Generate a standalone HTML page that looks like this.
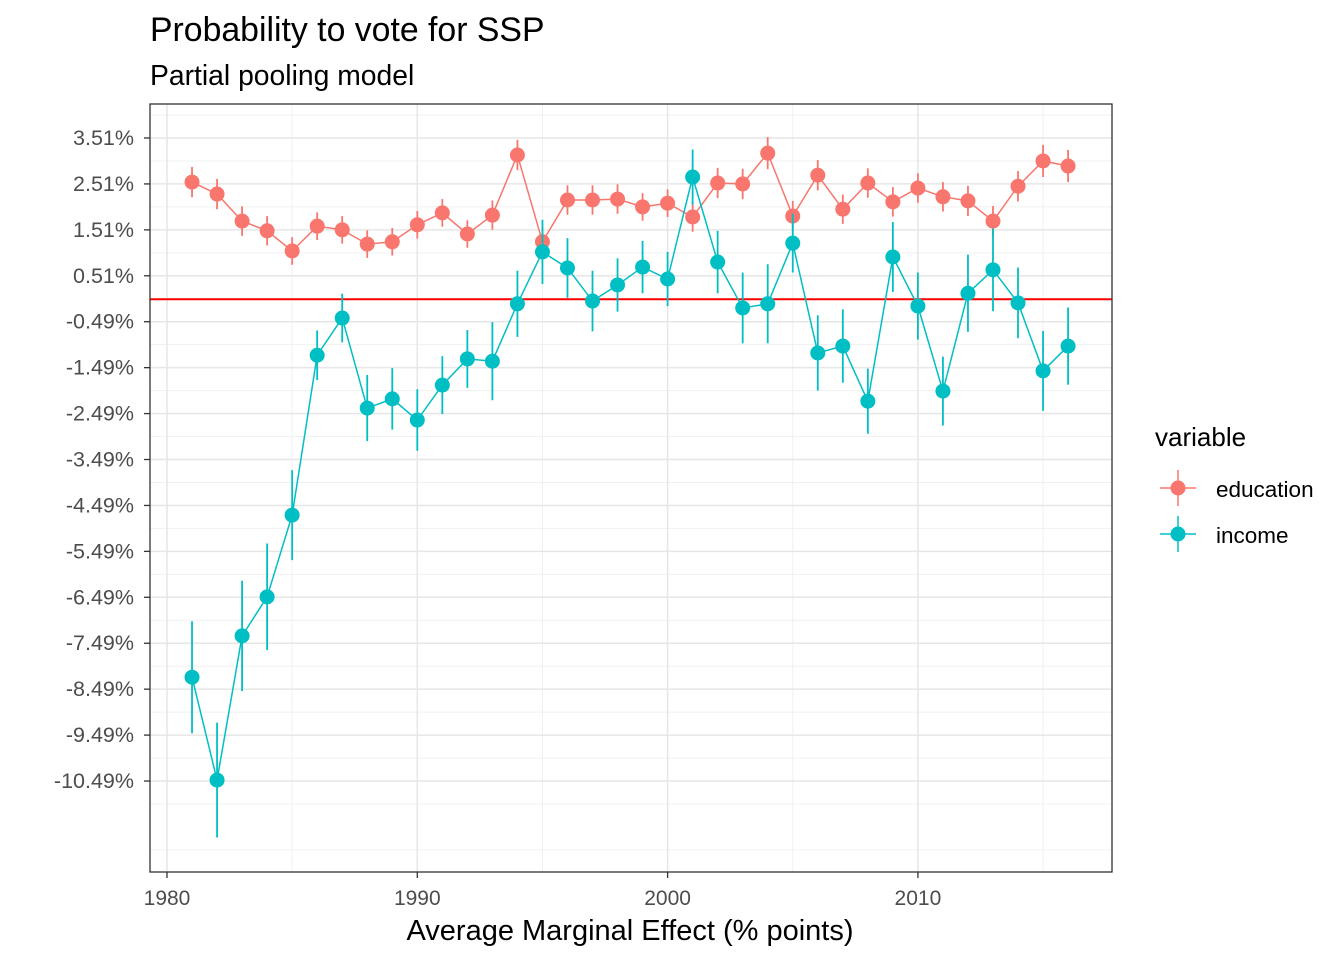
<!DOCTYPE html>
<html><head><meta charset="utf-8"><style>
body{margin:0;background:#fff;font-family:"Liberation Sans",Arial,sans-serif}
svg text{font-family:"Liberation Sans",Arial,sans-serif}
</style></head><body>
<svg id="chart" width="1344" height="960" xmlns="http://www.w3.org/2000/svg">
<text x="150" y="41" font-size="33.8" fill="#000">Probability to vote for SSP</text>
<text x="150" y="85" font-size="28.3" fill="#000">Partial pooling model</text>
<g id="grid"></g>
<g id="marks"></g>
<rect x="150" y="104" width="962" height="768" fill="none" stroke="#333" stroke-width="1.3"/>
<g id="axes"></g>
<text x="630" y="940" font-size="29" text-anchor="middle" fill="#000">Average Marginal Effect (% points)</text>
<g>
<text x="1155" y="446" font-size="26" fill="#000">variable</text>
<g>
<line x1="1160" y1="488" x2="1196" y2="488" stroke="#F8766D" stroke-width="1.5"/>
<line x1="1178" y1="470" x2="1178" y2="506" stroke="#F8766D" stroke-width="1.5"/>
<circle cx="1178" cy="488" r="7.5" fill="#F8766D"/>
<text x="1216" y="497" font-size="22.5" fill="#000">education</text></g>
<g>
<line x1="1160" y1="534" x2="1196" y2="534" stroke="#00BFC4" stroke-width="1.5"/>
<line x1="1178" y1="516" x2="1178" y2="552" stroke="#00BFC4" stroke-width="1.5"/>
<circle cx="1178" cy="534" r="7.5" fill="#00BFC4"/>
<text x="1216" y="543" font-size="22.5" fill="#000">income</text></g>
</g>
</svg>
<script>
const years=[];for(let y=1981;y<=2016;y++)years.push(y);
const eduVals=[2.55,2.29,1.70,1.49,1.05,1.59,1.51,1.20,1.25,1.62,1.88,1.42,1.83,3.14,1.25,2.16,2.16,2.18,2.01,2.09,1.79,2.53,2.51,3.18,1.81,2.70,1.96,2.53,2.12,2.42,2.23,2.14,1.70,2.46,3.01,2.90];
const eduErr=[0.33,0.33,0.32,0.32,0.3,0.3,0.3,0.3,0.3,0.3,0.3,0.3,0.32,0.33,0.32,0.32,0.32,0.32,0.3,0.3,0.32,0.33,0.33,0.35,0.33,0.33,0.32,0.32,0.32,0.32,0.32,0.33,0.33,0.33,0.35,0.35];
const incVals=[-8.23,-10.47,-7.33,-6.48,-4.70,-1.22,-0.41,-2.37,-2.17,-2.63,-1.87,-1.30,-1.35,-0.10,1.03,0.68,-0.04,0.31,0.70,0.44,2.66,0.81,-0.19,-0.10,1.22,-1.17,-1.02,-2.22,0.92,-0.15,-2.00,0.13,0.64,-0.08,-1.56,-1.02];
const incErr=[1.22,1.25,1.2,1.16,0.98,0.54,0.53,0.72,0.67,0.67,0.63,0.63,0.85,0.72,0.70,0.65,0.66,0.58,0.57,0.59,0.60,0.68,0.77,0.86,0.64,0.82,0.80,0.71,0.76,0.73,0.75,0.84,0.9,0.77,0.87,0.84];
const xTicks=[1980,1990,2000,2010];
const yTicks=[3.51,2.51,1.51,0.51,-0.49,-1.49,-2.49,-3.49,-4.49,-5.49,-6.49,-7.49,-8.49,-9.49,-10.49];
const NS='http://www.w3.org/2000/svg';
const X=v=>167+(v-1980)*25.03;
const Y=v=>138+(3.51-v)*45.93;
function mk(p,t,a){const e=document.createElementNS(NS,t);for(const k in a)e.setAttribute(k,a[k]);p.appendChild(e);return e;}
const grid=document.getElementById('grid'),marks=document.getElementById('marks'),axes=document.getElementById('axes');
mk(grid,'rect',{x:150,y:104,width:962,height:768,fill:'#fff'});
for(let v=4.01;v>-12.5;v-=1){const l=mk(grid,'line',{x1:150,x2:1112,y1:Y(v),y2:Y(v),stroke:'#f0f0f0','stroke-width':1});

}
for(let v=1985;v<=2015;v+=10){const l=mk(grid,'line',{x1:X(v),x2:X(v),y1:104,y2:872,stroke:'#f0f0f0','stroke-width':1});

}
yTicks.forEach(v=>{const l=mk(grid,'line',{x1:150,x2:1112,y1:Y(v),y2:Y(v),stroke:'#e6e6e6','stroke-width':1.5});


const t=mk(axes,'line',{x1:144,x2:150,y1:Y(v),y2:Y(v),stroke:'#333','stroke-width':1.3});


const tx=mk(axes,'text',{x:134,y:Y(v)+7,'font-size':21.5,'text-anchor':'end',fill:'#4d4d4d'});tx.textContent=v.toFixed(2)+'%';

});
xTicks.forEach(v=>{const l=mk(grid,'line',{x1:X(v),x2:X(v),y1:104,y2:872,stroke:'#e6e6e6','stroke-width':1.5});


const t=mk(axes,'line',{x1:X(v),x2:X(v),y1:872,y2:878,stroke:'#333','stroke-width':1.3});


const tx=mk(axes,'text',{x:X(v),y:905,'font-size':21,'text-anchor':'middle',fill:'#4d4d4d'});tx.textContent=v;

});
const zl=mk(marks,'line',{x1:150,x2:1112,y1:Y(0),y2:Y(0),stroke:'#ff0000','stroke-width':2});


function series(vals,errs,col,name){
const pl=mk(marks,'polyline',{points:years.map((y,i)=>X(y)+','+Y(vals[i])).join(' '),fill:'none',stroke:col,'stroke-width':1.5});


years.forEach((y,i)=>{const e=mk(marks,'line',{x1:X(y),x2:X(y),y1:Y(vals[i]+errs[i]),y2:Y(vals[i]-errs[i]),stroke:col,'stroke-width':1.8});


const c=mk(marks,'circle',{cx:X(y),cy:Y(vals[i]),r:7.5,fill:col});

});}
series(eduVals,eduErr,'#F8766D','education');
series(incVals,incErr,'#00BFC4','income');
</script>
</body></html>
